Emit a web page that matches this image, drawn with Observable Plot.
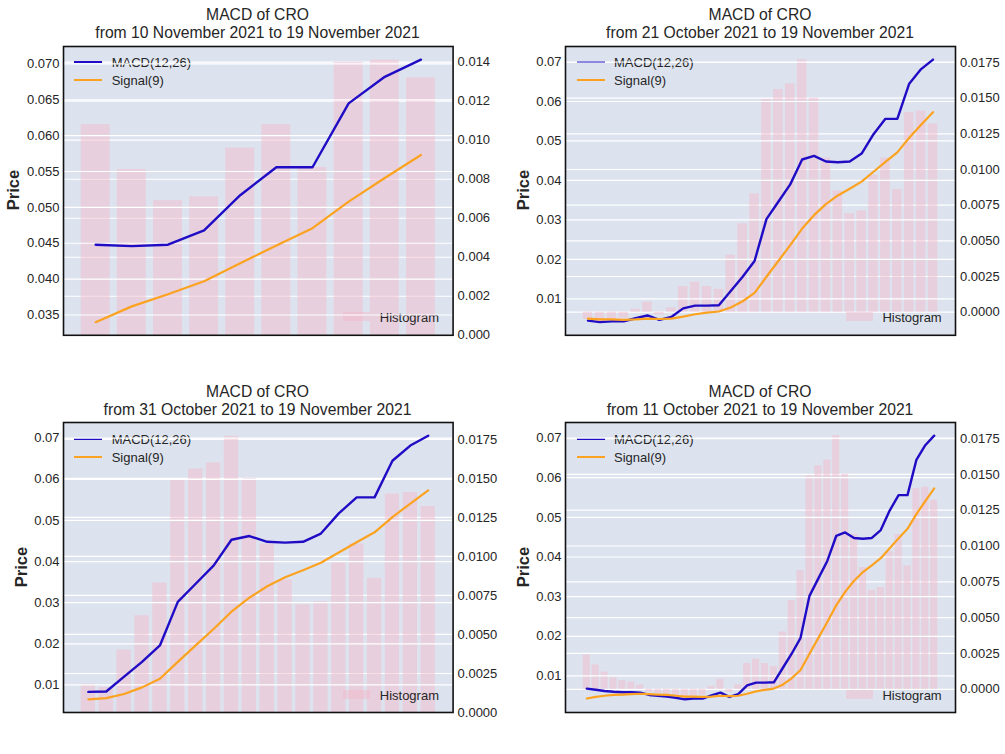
<!DOCTYPE html>
<html><head><meta charset="utf-8">
<script src="https://cdn.jsdelivr.net/npm/d3@7"></script>
<script src="https://cdn.jsdelivr.net/npm/@observablehq/plot@0.6"></script>
<style>
body{margin:0;background:#fff;font-family:"Liberation Sans",Arial,sans-serif;}
#root{position:relative;width:1005px;height:754px;overflow:hidden;background:#fff;}
.layer{position:absolute;}
.title{position:absolute;text-align:center;font-size:15.7px;color:#262626;white-space:nowrap;transform:translate(-50%,-50%);line-height:18px;}
.ylab{position:absolute;font-size:16.5px;font-weight:bold;color:#262626;white-space:nowrap;transform:translate(-50%,-50%) rotate(-90deg);}
.lgtext{position:absolute;font-size:13px;color:#262626;white-space:nowrap;transform:translateY(-50%);line-height:15px;}
.lgline{position:absolute;height:2px;}
.lgpatch{position:absolute;}
</style></head><body><div id="root"></div><script>
// ---- data (11 Oct 2021 .. 19 Nov 2021) ----
const dates = ["2021-10-11","2021-10-12","2021-10-13","2021-10-14","2021-10-15","2021-10-16","2021-10-17","2021-10-18","2021-10-19","2021-10-20",
"2021-10-21","2021-10-22","2021-10-23","2021-10-24","2021-10-25","2021-10-26","2021-10-27","2021-10-28","2021-10-29","2021-10-30",
"2021-10-31","2021-11-01","2021-11-02","2021-11-03","2021-11-04","2021-11-05","2021-11-06","2021-11-07","2021-11-08","2021-11-09",
"2021-11-10","2021-11-11","2021-11-12","2021-11-13","2021-11-14","2021-11-15","2021-11-16","2021-11-17","2021-11-18","2021-11-19"];
const macd = [0.0068,0.0065,0.0062,0.0060,0.0059,0.0059,0.0058,0.0052,0.0050,0.0048,
0.0045,0.0041,0.0043,0.0043,0.0051,0.0058,0.0047,0.0054,0.0076,0.0083,
0.0083,0.0084,0.0120,0.0156,0.0196,0.0302,0.0346,0.0390,0.0453,0.0462,
0.0448,0.0446,0.0448,0.0468,0.0517,0.0556,0.0556,0.0645,0.0682,0.0706];
const signal = [0.0043,0.0047,0.0050,0.0052,0.0053,0.0054,0.0055,0.0054,0.0053,0.0052,
0.0050,0.0048,0.0048,0.0047,0.0048,0.0050,0.0049,0.0050,0.0055,0.0061,
0.0065,0.0068,0.0078,0.0094,0.0115,0.0156,0.0196,0.0236,0.0278,0.0312,
0.0340,0.0362,0.0379,0.0397,0.0422,0.0447,0.0471,0.0508,0.0541,0.0573];
const histogram = [0.0024,0.0017,0.0012,0.0008,0.0006,0.0005,0.0003,-0.0002,-0.0003,-0.0004,
-0.0005,-0.0007,-0.0005,-0.0004,0.0002,0.0007,-0.0002,0.0003,0.0018,0.0021,
0.0018,0.0016,0.0040,0.0062,0.0083,0.0149,0.0156,0.0160,0.0177,0.0150,
0.0108,0.0085,0.0069,0.0071,0.0096,0.0108,0.0086,0.0140,0.0141,0.0132];

// ---- panels ----
const panelStart = ["2021-11-10","2021-10-21","2021-10-31","2021-10-11"];
const panelStartLabel = ["10 November 2021","21 October 2021","31 October 2021","11 October 2021"];
const endLabel = "19 November 2021";
const leftTicks = [
  [0.035,0.040,0.045,0.050,0.055,0.060,0.065,0.070],
  [0.01,0.02,0.03,0.04,0.05,0.06,0.07],
  [0.01,0.02,0.03,0.04,0.05,0.06,0.07],
  [0.01,0.02,0.03,0.04,0.05,0.06,0.07]];
const rightTicks = [
  [0.000,0.002,0.004,0.006,0.008,0.010,0.012,0.014],
  [0.0000,0.0025,0.0050,0.0075,0.0100,0.0125,0.0150,0.0175],
  [0.0000,0.0025,0.0050,0.0075,0.0100,0.0125,0.0150,0.0175],
  [0.0000,0.0025,0.0050,0.0075,0.0100,0.0125,0.0150,0.0175]];
const leftFmt = [".3f",".2f",".2f",".2f"];
const rightFmt = [".3f",".4f",".4f",".4f"];
const seriesNames = ["MACD(12,26)","Signal(9)","Histogram"];

// ---- layout / style ----
const frames = [
  {x0:62.7, y0:45.7, x1:452.3, y1:334.5},
  {x0:565,  y0:45.7, x1:955,   y1:334.5},
  {x0:62.7, y0:422.3, x1:452.3, y1:712.3},
  {x0:565,  y0:422.3, x1:955,   y1:712.3}];
const BG = "#dde3ee", PINK = "#f3b6c8", BLUE = "#1f0cc4", ORANGE = "#fba320", TXT = "#262626";
const M = 65, MT = 10;
const root = document.getElementById("root");

function addDiv(cls, text, css){
  const d = document.createElement("div");
  d.className = cls; if (text) d.textContent = text;
  Object.assign(d.style, css); root.appendChild(d); return d;
}

frames.forEach((f, p) => {
  const s = dates.indexOf(panelStart[p]);
  const rows = dates.slice(s).map((d, i) => ({i, date: d, m: macd[s+i], s: signal[s+i], h: histogram[s+i]}));
  const n = rows.length;
  const pad = 0.05 * (n - 0.2);
  const xDomain = [-0.4 - pad, n - 0.6 + pad];
  const lo = d3.min(rows, r => Math.min(r.m, r.s)), hi = d3.max(rows, r => Math.max(r.m, r.s));
  const lr = hi - lo;
  const pDom = [lo - 0.05*lr, hi + 0.05*lr];
  const hlo = Math.min(0, d3.min(rows, r => r.h)), hhi = Math.max(0, d3.max(rows, r => r.h));
  const hr = hhi - hlo;
  const hDom = [hlo < 0 ? hlo - 0.05*hr : 0, hhi + 0.05*hr];

  const W = (f.x1 - f.x0) + 2*M, H = (f.y1 - f.y0) + 2*MT;
  const common = {
    width: W, height: H, marginLeft: M, marginRight: M, marginTop: MT, marginBottom: MT,
    x: {domain: xDomain, axis: null},
    style: {background: "transparent", fontFamily: '"Liberation Sans", Arial, sans-serif', fontSize: "13px", color: TXT, overflow: "visible"}
  };
  const plotA = Plot.plot({...common,
    y: {domain: hDom, axis: null, label: null},
    marks: [
      Plot.frame({fill: BG, stroke: "none"}),
      Plot.gridY(rightTicks[p], {stroke: "#fff", strokeOpacity: 1, strokeWidth: 1.2}),
      Plot.rect(rows, {x1: r => r.i - 0.4, x2: r => r.i + 0.4, y1: 0, y2: "h", fill: PINK, fillOpacity: 0.45}),
      Plot.axisY(rightTicks[p], {anchor: "right", tickSize: 0, tickPadding: 4.5, tickFormat: d3.format(rightFmt[p]), label: null, fill: TXT})
    ]});
  plotA.classList.add("layer");
  Object.assign(plotA.style, {left: (f.x0 - M) + "px", top: (f.y0 - MT) + "px"});
  root.appendChild(plotA);

  const ly1 = f.y0 + 16.6, ly2 = f.y0 + 34.6;
  addDiv("lgline", "", {left: (f.x0 + 11.5) + "px", top: (ly1 - 1) + "px", width: "28px", background: BLUE});
  addDiv("lgline", "", {left: (f.x0 + 11.5) + "px", top: (ly2 - 1) + "px", width: "28px", background: ORANGE});
  addDiv("lgtext", seriesNames[0], {left: (f.x0 + 49) + "px", top: ly1 + "px"});
  addDiv("lgtext", seriesNames[1], {left: (f.x0 + 49) + "px", top: ly2 + "px"});
  const hy = f.y1 - 17.8;
  addDiv("lgpatch", "", {left: (f.x1 - 109) + "px", top: (hy - 4.5) + "px", width: "27px", height: "9px", background: PINK, opacity: 0.45});
  addDiv("lgtext", seriesNames[2], {right: (1005 - (f.x1 - 13.3)) + "px", top: hy + "px"});

  const plotB = Plot.plot({...common,
    y: {domain: pDom, axis: null, label: null},
    marks: [
      Plot.gridY(leftTicks[p], {stroke: "#fff", strokeOpacity: 1, strokeWidth: 1.2}),
      Plot.line(rows, {x: "i", y: "m", stroke: BLUE, strokeWidth: 2.4}),
      Plot.line(rows, {x: "i", y: "s", stroke: ORANGE, strokeWidth: 2.2}),
      Plot.axisY(leftTicks[p], {anchor: "left", tickSize: 0, tickPadding: 4, tickFormat: d3.format(leftFmt[p]), label: null, fill: TXT}),
      Plot.frame({stroke: "#111", strokeWidth: 1.6})
    ]});
  plotB.classList.add("layer");
  Object.assign(plotB.style, {left: (f.x0 - M) + "px", top: (f.y0 - MT) + "px"});
  root.appendChild(plotB);

  const cx = (f.x0 + f.x1) / 2;
  addDiv("title", "MACD of CRO", {left: cx + "px", top: (f.y0 - 30.5) + "px"});
  addDiv("title", "from " + panelStartLabel[p] + " to " + endLabel, {left: cx + "px", top: (f.y0 - 12.8) + "px"});
  const labX = f.x0 - (leftFmt[p] === ".3f" ? 49.4 : 41.7);
  addDiv("ylab", "Price", {left: labX + "px", top: ((f.y0 + f.y1) / 2) + "px"});
});
</script></body></html>
